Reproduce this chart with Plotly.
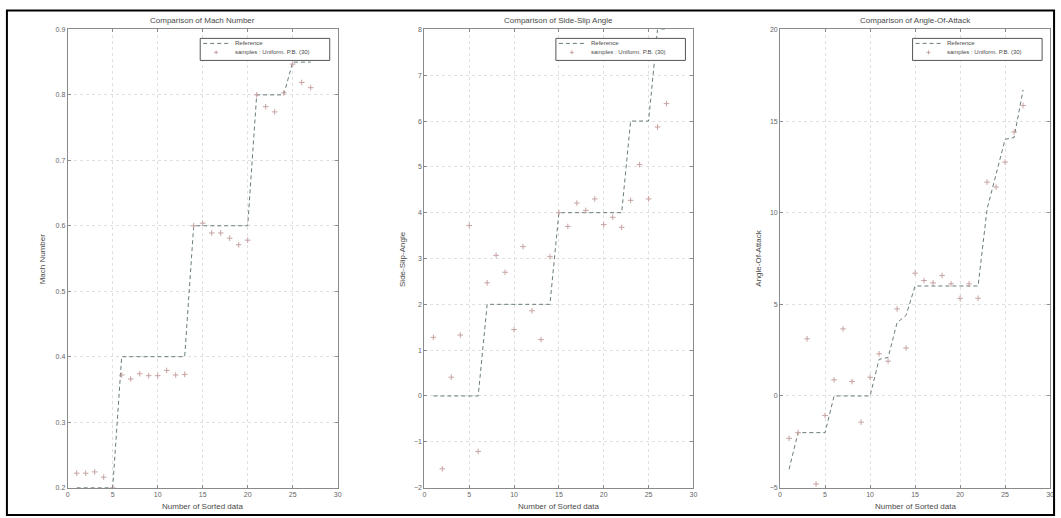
import plotly.graph_objects as go

# ---------------- data ----------------
sorted_index = [1, 2, 3, 4, 5, 6, 7, 8, 9, 10, 11, 12, 13, 14, 15, 16, 17, 18, 19, 20,
                21, 22, 23, 24, 25, 26, 27]

mach_reference = [0.2, 0.2, 0.2, 0.2, 0.2, 0.4, 0.4, 0.4, 0.4, 0.4, 0.4, 0.4, 0.4,
                  0.6, 0.6, 0.6, 0.6, 0.6, 0.6, 0.6, 0.8, 0.8, 0.8, 0.8, 0.85, 0.85, 0.85]
mach_samples = [0.222, 0.222, 0.224, 0.216, 0.200, 0.372, 0.366, 0.374, 0.371, 0.371,
                0.379, 0.372, 0.373, 0.600, 0.604, 0.589, 0.589, 0.581, 0.571, 0.578,
                0.800, 0.782, 0.774, 0.803, 0.847, 0.819, 0.811]

beta_reference = [0, 0, 0, 0, 0, 0, 2, 2, 2, 2, 2, 2, 2, 2, 4, 4, 4, 4, 4, 4, 4, 4,
                  6, 6, 6, 8, 8]
beta_samples = [1.28, -1.59, 0.41, 1.33, 3.72, -1.21, 2.47, 3.07, 2.70, 1.45, 3.26,
                1.86, 1.23, 3.04, 4.00, 3.70, 4.21, 4.05, 4.30, 3.74, 3.90, 3.68, 4.27,
                5.05, 4.30, 5.87, 6.38]

alpha_reference = [-4, -2, -2, -2, -2, 0, 0, 0, 0, 0, 2.0, 2.1, 4.0, 4.4, 6, 6, 6, 6,
                   6, 6, 6, 6, 10.2, 12.1, 14.0, 14.1, 16.7]
alpha_samples = [-2.31, -2.0, 3.12, -4.8, -1.07, 0.88, 3.66, 0.79, -1.43, 1.02, 2.3,
                 1.9, 4.75, 2.62, 6.7, 6.3, 6.17, 6.57, 6.12, 5.33, 6.12, 5.33, 11.67,
                 11.4, 12.76, 14.4, 15.85]

titles = ["Comparison of Mach Number", "Comparison of Side-Slip Angle",
          "Comparison of Angle-Of-Attack"]
ylabels = ["Mach Number", "Side-Slip-Angle", "Angle-Of-Attack"]
xlabel = "Number of Sorted data"
ref_name = "Reference"
sample_names = ["samples : Uniform. P.B. (30)", "samples : Uniform. P.B. (30)",
                "samples : Uniform. P.B. (30)"]
y_ranges = [[0.2, 0.9], [-2, 8], [-5, 20]]
y_dticks = [0.1, 1, 5]

# ---------------- layout geometry (target pixel positions) ----------------
W, H = 1061, 518
plot_px = [(67, 338), (425, 695), (782, 1053)]
top_px, bot_px = 29, 487
ylabel_px = [42, 403, 760]
legend_right_px = [330, 687, 1045]

# small correction for the capture's scaling of the page
KX, KY = 1.002, 1.0142
CX, CY = 530.5, 258.0

REF_COLOR = "#6a7c7c"
SMP_COLOR = "#c8a2a2"
TXT = "#4a4a4a"
FONT = "Liberation Sans"


def px(xp):
    return (CX + (xp - CX) * KX) / W


def py(yp):
    return min(1.0, max(0.0, 1 - (CY + (yp - CY) * KY) / H))


fig = go.Figure()
series = [(mach_reference, mach_samples), (beta_reference, beta_samples),
          (alpha_reference, alpha_samples)]

annotations = []
shapes = []
for i, (ref, smp) in enumerate(series):
    sfx = "" if i == 0 else str(i + 1)
    fig.add_trace(go.Scatter(x=sorted_index, y=ref, mode="lines", name=ref_name,
                             line=dict(color=REF_COLOR, width=1, dash="4px,3px"),
                             xaxis="x" + sfx, yaxis="y" + sfx, showlegend=False))
    fig.add_trace(go.Scatter(x=sorted_index, y=smp, mode="markers", name=sample_names[i],
                             marker=dict(symbol="cross-thin", size=4,
                                         line=dict(width=1, color=SMP_COLOR)),
                             xaxis="x" + sfx, yaxis="y" + sfx, showlegend=False))
    x0, x1 = plot_px[i]
    axis_common = dict(showline=True, linecolor="#8a8a8a", linewidth=1, mirror="ticks",
                       ticks="inside", ticklen=3, tickcolor="#8a8a8a",
                       showgrid=True, gridcolor="#e0e0e0", griddash="dot", gridwidth=1,
                       zeroline=False, tickfont=dict(family=FONT, size=7, color="#666"))
    fig.update_layout(**{
        "xaxis" + sfx: dict(domain=[px(x0), px(x1)], range=[0, 30], dtick=5,
                            anchor="y" + sfx, **axis_common),
        "yaxis" + sfx: dict(domain=[py(bot_px), py(top_px)], range=y_ranges[i],
                            dtick=y_dticks[i], anchor="x" + sfx, **axis_common),
    })
    annotations.append(dict(text=titles[i], x=px((x0 + x1) / 2), y=py(20),
                            xanchor="center", yanchor="middle",
                            xref="paper", yref="paper", showarrow=False,
                            font=dict(family=FONT, size=8, color=TXT)))
    annotations.append(dict(text=xlabel, x=px((x0 + x1) / 2), y=py(506),
                            xanchor="center", yanchor="middle",
                            xref="paper", yref="paper", showarrow=False,
                            font=dict(family=FONT, size=8, color=TXT)))
    annotations.append(dict(text=ylabels[i], x=px(ylabel_px[i]), y=py(258),
                            xanchor="center", yanchor="middle",
                            xref="paper", yref="paper", showarrow=False, textangle=-90,
                            font=dict(family=FONT, size=8, color=TXT)))

    # --- compact MATLAB-style legend box ---
    R = legend_right_px[i]
    shapes.append(dict(type="rect", xref="paper", yref="paper",
                       x0=px(R - 130), x1=px(R), y0=py(60), y1=py(38),
                       fillcolor="white", line=dict(color="#555", width=1), layer="above"))
    shapes.append(dict(type="line", xref="paper", yref="paper",
                       x0=px(R - 127), x1=px(R - 100), y0=py(43), y1=py(43),
                       line=dict(color=REF_COLOR, width=1, dash="4px,3px"), layer="above"))
    mx, my = R - 114, 52
    shapes.append(dict(type="line", xref="paper", yref="paper",
                       x0=px(mx - 2), x1=px(mx + 2), y0=py(my), y1=py(my),
                       line=dict(color=SMP_COLOR, width=1), layer="above"))
    shapes.append(dict(type="line", xref="paper", yref="paper",
                       x0=px(mx), x1=px(mx), y0=py(my - 2), y1=py(my + 2),
                       line=dict(color=SMP_COLOR, width=1), layer="above"))
    annotations.append(dict(text=ref_name, x=px(R - 97), y=py(43), xanchor="left",
                            yanchor="middle", xref="paper", yref="paper", showarrow=False,
                            font=dict(family=FONT, size=6, color=TXT)))
    annotations.append(dict(text=sample_names[i], x=px(R - 97), y=py(52), xanchor="left",
                            yanchor="middle", xref="paper", yref="paper", showarrow=False,
                            font=dict(family=FONT, size=6, color=TXT)))

shapes.append(dict(type="rect", xref="paper", yref="paper",
                   x0=px(6), x1=px(1057), y0=py(514.5), y1=py(10),
                   line=dict(color="black", width=2)))

fig.update_layout(
    width=W, height=H, margin=dict(l=0, r=0, t=0, b=0),
    paper_bgcolor="white", plot_bgcolor="white",
    annotations=annotations, shapes=shapes, showlegend=False,
)

page_fix = (
    "var s=document.createElement('style');"
    "s.textContent='html,body{margin:0;padding:0;overflow:hidden;width:1061px;height:518px;}"
    ".plotly-graph-div{display:block;}';"
    "document.head.appendChild(s);"
)
fig.write_html("out.html", config={"displayModeBar": False}, post_script=page_fix)
